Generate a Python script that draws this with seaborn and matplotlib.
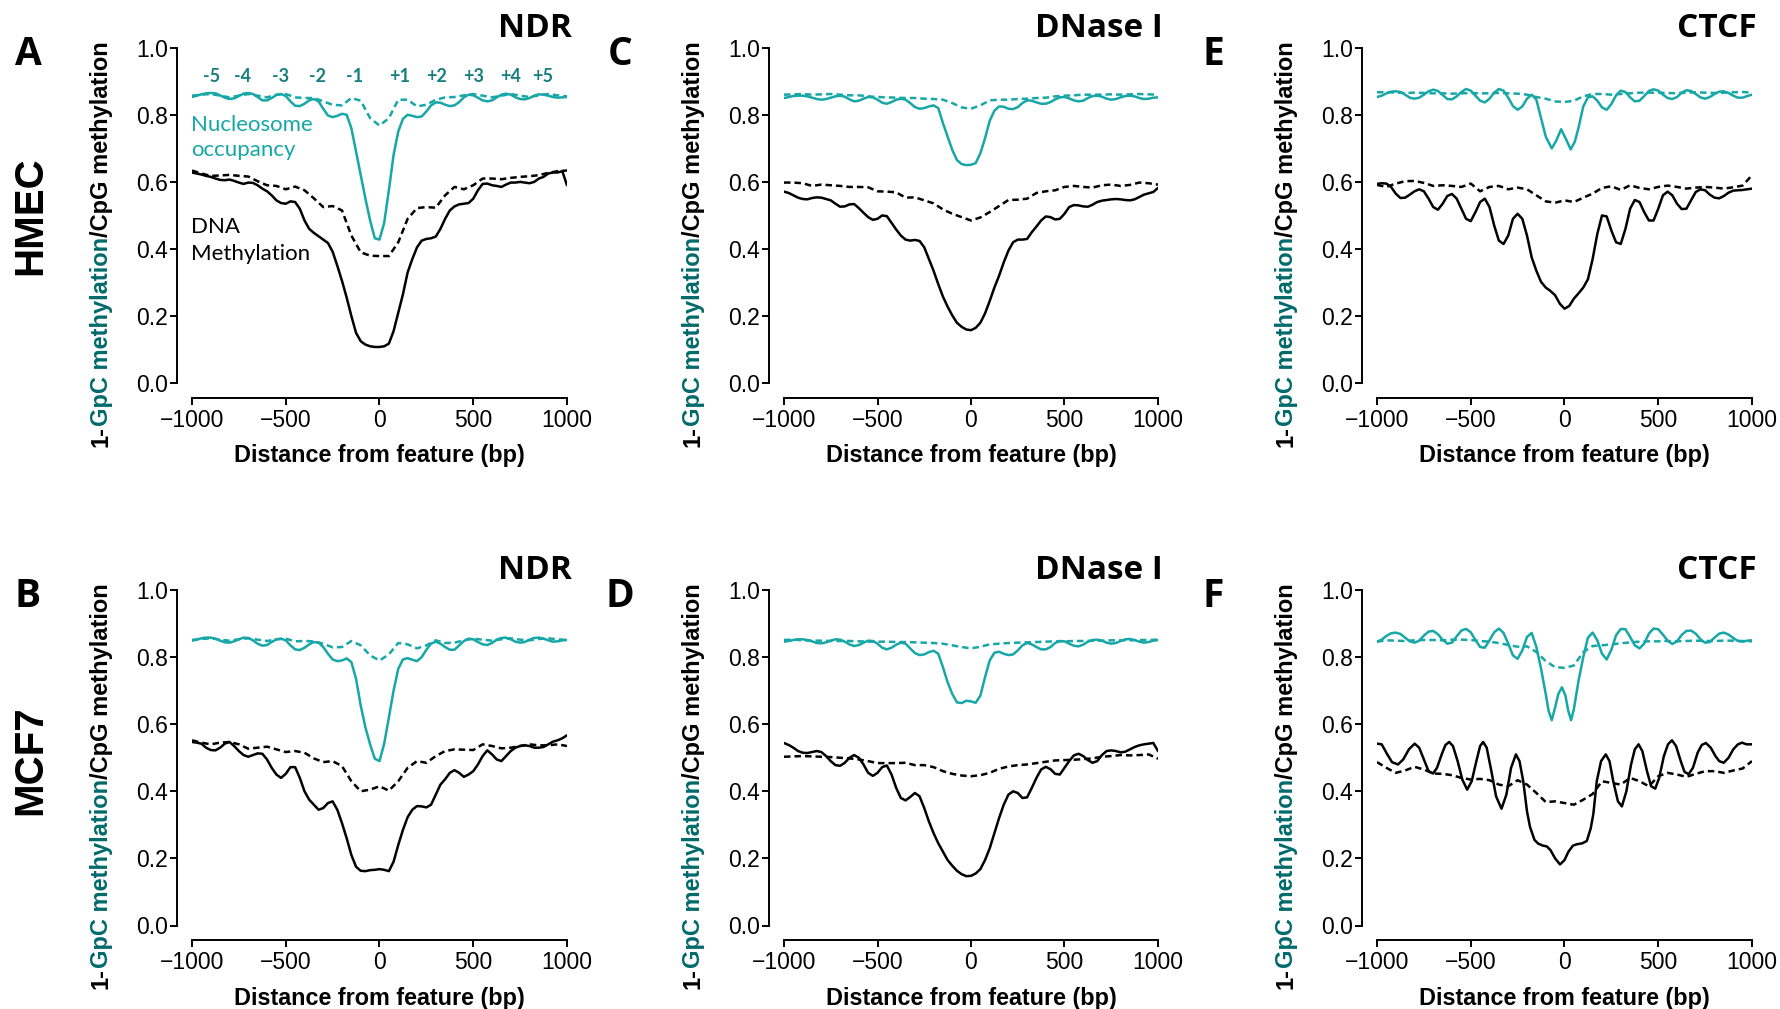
import matplotlib
matplotlib.use("Agg")
import matplotlib.pyplot as plt
import seaborn as sns
from matplotlib.ticker import FormatStrFormatter
from matplotlib.font_manager import FontProperties

sns.set_theme(style="ticks")
plt.rcParams['font.family'] = ['Liberation Sans', 'DejaVu Sans']

# ---------------- data ----------------
X25 = list(range(-1000, 1001, 25))
X50 = list(range(-1000, 1001, 50))

# Panel A  (HMEC, NDR)
A_teal_solid = [0.853, 0.857, 0.861, 0.864, 0.865, 0.864, 0.858, 0.851, 0.847, 0.849,
                0.856, 0.863, 0.865, 0.862, 0.853, 0.843, 0.843, 0.850, 0.859, 0.862,
                0.856, 0.840, 0.827, 0.826, 0.833, 0.843, 0.847, 0.840, 0.818, 0.798,
                0.793, 0.797, 0.803, 0.800, 0.760, 0.690, 0.620, 0.550, 0.485, 0.432,
                0.428, 0.478, 0.575, 0.680, 0.750, 0.788, 0.800, 0.797, 0.793, 0.795,
                0.810, 0.828, 0.837, 0.836, 0.830, 0.826, 0.828, 0.838, 0.852, 0.860,
                0.858, 0.851, 0.843, 0.840, 0.843, 0.852, 0.860, 0.863, 0.860, 0.852,
                0.847, 0.846, 0.850, 0.857, 0.861, 0.860, 0.857, 0.853, 0.851, 0.852,
                0.853]
A_teal_dash = [0.857, 0.860, 0.862, 0.857, 0.852, 0.857, 0.862, 0.857, 0.852, 0.860,
               0.862, 0.852, 0.850, 0.850, 0.840, 0.830, 0.828, 0.850, 0.842, 0.790,
               0.768, 0.790, 0.845, 0.845, 0.825, 0.830, 0.845, 0.852, 0.853, 0.858,
               0.862, 0.857, 0.852, 0.857, 0.862, 0.857, 0.853, 0.858, 0.862, 0.858,
               0.855]
A_black_solid = [0.628, 0.625, 0.622, 0.618, 0.615, 0.610, 0.606, 0.605, 0.607, 0.603,
                 0.598, 0.594, 0.598, 0.597, 0.590, 0.580, 0.572, 0.560, 0.545, 0.537,
                 0.535, 0.542, 0.540, 0.520, 0.485, 0.460, 0.448, 0.438, 0.428, 0.418,
                 0.392, 0.350, 0.305, 0.255, 0.200, 0.150, 0.125, 0.115, 0.110, 0.108,
                 0.108, 0.110, 0.118, 0.155, 0.210, 0.265, 0.330, 0.370, 0.405, 0.425,
                 0.430, 0.432, 0.437, 0.460, 0.490, 0.515, 0.527, 0.533, 0.535, 0.537,
                 0.550, 0.575, 0.594, 0.595, 0.590, 0.588, 0.585, 0.592, 0.598, 0.598,
                 0.600, 0.598, 0.596, 0.600, 0.610, 0.615, 0.625, 0.628, 0.628, 0.632,
                 0.590]
A_black_dash = [0.634, 0.625, 0.618, 0.619, 0.621, 0.618, 0.616, 0.602, 0.590, 0.588,
                0.578, 0.586, 0.575, 0.551, 0.525, 0.528, 0.515, 0.440, 0.390, 0.380,
                0.379, 0.379, 0.420, 0.490, 0.522, 0.525, 0.523, 0.560, 0.585, 0.578,
                0.590, 0.610, 0.610, 0.608, 0.612, 0.615, 0.617, 0.620, 0.627, 0.632,
                0.634]

# Panel C  (HMEC, DNase I)
C_teal_solid = [0.850, 0.853, 0.856, 0.857, 0.857, 0.855, 0.851, 0.847, 0.845, 0.847,
                0.851, 0.855, 0.857, 0.854, 0.846, 0.840, 0.842, 0.848, 0.853, 0.852,
                0.845, 0.836, 0.833, 0.838, 0.845, 0.848, 0.845, 0.835, 0.823, 0.818,
                0.820, 0.825, 0.828, 0.820, 0.775, 0.735, 0.695, 0.665, 0.653, 0.650,
                0.651, 0.656, 0.685, 0.730, 0.782, 0.812, 0.825, 0.824, 0.818, 0.817,
                0.823, 0.835, 0.843, 0.842, 0.837, 0.833, 0.833, 0.838, 0.846, 0.852,
                0.853, 0.849, 0.843, 0.840, 0.842, 0.850, 0.856, 0.857, 0.854, 0.848,
                0.845, 0.847, 0.852, 0.856, 0.857, 0.855, 0.850, 0.847, 0.848, 0.851,
                0.852]
C_teal_dash = [0.860, 0.861, 0.862, 0.860, 0.861, 0.862, 0.860, 0.858, 0.858, 0.855,
               0.853, 0.852, 0.851, 0.850, 0.850, 0.848, 0.847, 0.845, 0.835, 0.822,
               0.818, 0.828, 0.843, 0.845, 0.845, 0.847, 0.848, 0.850, 0.851, 0.855,
               0.857, 0.858, 0.860, 0.860, 0.860, 0.861, 0.860, 0.861, 0.862, 0.861,
               0.860]
C_black_solid = [0.571, 0.567, 0.560, 0.553, 0.549, 0.548, 0.552, 0.554, 0.553, 0.549,
                 0.545, 0.535, 0.526, 0.527, 0.533, 0.534, 0.522, 0.508, 0.495, 0.487,
                 0.490, 0.500, 0.498, 0.478, 0.458, 0.440, 0.428, 0.425, 0.427, 0.424,
                 0.405, 0.370, 0.335, 0.295, 0.258, 0.228, 0.202, 0.180, 0.168, 0.160,
                 0.158, 0.165, 0.180, 0.208, 0.245, 0.285, 0.320, 0.360, 0.395, 0.420,
                 0.428, 0.428, 0.430, 0.450, 0.467, 0.485, 0.497, 0.495, 0.488, 0.490,
                 0.505, 0.525, 0.531, 0.530, 0.527, 0.526, 0.532, 0.540, 0.544, 0.546,
                 0.548, 0.549, 0.548, 0.546, 0.545, 0.548, 0.555, 0.562, 0.566, 0.570,
                 0.582]
C_black_dash = [0.598, 0.598, 0.596, 0.588, 0.592, 0.590, 0.588, 0.585, 0.585, 0.584,
                0.572, 0.571, 0.569, 0.553, 0.554, 0.545, 0.536, 0.518, 0.505, 0.495,
                0.485, 0.494, 0.510, 0.528, 0.546, 0.547, 0.550, 0.567, 0.572, 0.575,
                0.585, 0.588, 0.585, 0.583, 0.590, 0.592, 0.588, 0.591, 0.598, 0.596,
                0.592]

# Panel E  (HMEC, CTCF)
E_teal_solid_x = (list(range(-1000, -150, 25))
                  + [-150, -125, -100, -68, -45, -18, 10, 33, 55, 75, 100, 125]
                  + list(range(150, 1001, 25)))
E_teal_solid = [0.853, 0.857, 0.864, 0.869, 0.870, 0.868, 0.860, 0.851, 0.848, 0.851,
                0.860, 0.870, 0.875, 0.871, 0.859, 0.847, 0.846, 0.855, 0.868, 0.877,
                0.872, 0.857, 0.842, 0.837, 0.848, 0.866, 0.877, 0.872, 0.851, 0.826,
                0.815, 0.825, 0.848, 0.860,
                0.845, 0.790, 0.735, 0.700, 0.722, 0.757, 0.725, 0.697, 0.720, 0.762,
                0.825, 0.852,
                0.855, 0.842, 0.822, 0.815, 0.832, 0.858, 0.872, 0.868, 0.852, 0.840,
                0.842, 0.856, 0.871, 0.876, 0.872, 0.860, 0.850, 0.847, 0.853, 0.866,
                0.873, 0.871, 0.862, 0.852, 0.848, 0.853, 0.862, 0.869, 0.870, 0.865,
                0.857, 0.851, 0.851, 0.856, 0.860]
E_teal_dash = [0.867, 0.868, 0.866, 0.865, 0.866, 0.865, 0.864, 0.864, 0.863, 0.864,
               0.865, 0.864, 0.864, 0.865, 0.864, 0.863, 0.860, 0.853, 0.848, 0.840,
               0.838, 0.842, 0.855, 0.862, 0.862, 0.860, 0.862, 0.864, 0.866, 0.866,
               0.866, 0.865, 0.864, 0.866, 0.867, 0.866, 0.865, 0.866, 0.867, 0.868,
               0.866]
E_black_solid = [0.594, 0.596, 0.595, 0.585, 0.565, 0.552, 0.553, 0.562, 0.572, 0.578,
                 0.572, 0.550, 0.525, 0.517, 0.535, 0.558, 0.564, 0.550, 0.520, 0.490,
                 0.483, 0.510, 0.540, 0.550, 0.525, 0.470, 0.425, 0.415, 0.440, 0.490,
                 0.505, 0.490, 0.440, 0.375, 0.335, 0.302, 0.285, 0.275, 0.262, 0.237,
                 0.222, 0.230, 0.252, 0.268, 0.285, 0.310, 0.370, 0.445, 0.500, 0.497,
                 0.455, 0.420, 0.415, 0.460, 0.520, 0.546, 0.540, 0.510, 0.485, 0.485,
                 0.520, 0.560, 0.571, 0.560, 0.535, 0.519, 0.520, 0.545, 0.570, 0.578,
                 0.575, 0.562, 0.553, 0.551, 0.558, 0.568, 0.574, 0.575, 0.576, 0.578,
                 0.580]
E_black_dash = [0.591, 0.585, 0.595, 0.602, 0.603, 0.597, 0.588, 0.590, 0.588, 0.585,
                0.595, 0.572, 0.585, 0.588, 0.578, 0.583, 0.578, 0.560, 0.542, 0.538,
                0.545, 0.540, 0.553, 0.565, 0.582, 0.587, 0.576, 0.590, 0.582, 0.578,
                0.585, 0.589, 0.585, 0.580, 0.583, 0.585, 0.583, 0.580, 0.584, 0.589,
                0.620]

# Panel B  (MCF7, NDR)
B_teal_solid = [0.849, 0.852, 0.856, 0.858, 0.858, 0.855, 0.849, 0.844, 0.843, 0.847,
                0.853, 0.858, 0.857, 0.850, 0.840, 0.834, 0.836, 0.845, 0.853, 0.855,
                0.850, 0.835, 0.823, 0.821, 0.828, 0.838, 0.845, 0.843, 0.830, 0.810,
                0.793, 0.788, 0.790, 0.796, 0.785, 0.735, 0.655, 0.590, 0.540, 0.497,
                0.490, 0.542, 0.620, 0.700, 0.765, 0.793, 0.797, 0.792, 0.788, 0.800,
                0.822, 0.840, 0.846, 0.840, 0.830, 0.822, 0.822, 0.835, 0.848, 0.855,
                0.853, 0.845, 0.838, 0.836, 0.842, 0.852, 0.857, 0.858, 0.853, 0.846,
                0.843, 0.845, 0.852, 0.857, 0.858, 0.855, 0.850, 0.846, 0.847, 0.850,
                0.851]
B_teal_dash = [0.851, 0.854, 0.856, 0.852, 0.849, 0.853, 0.856, 0.852, 0.848, 0.853,
               0.855, 0.847, 0.848, 0.847, 0.840, 0.829, 0.830, 0.848, 0.835, 0.805,
               0.790, 0.808, 0.842, 0.838, 0.826, 0.835, 0.850, 0.842, 0.843, 0.850,
               0.855, 0.852, 0.849, 0.853, 0.856, 0.852, 0.850, 0.854, 0.856, 0.853,
               0.851]
B_black_solid = [0.547, 0.545, 0.542, 0.530, 0.523, 0.522, 0.530, 0.542, 0.547, 0.535,
                 0.520, 0.508, 0.503, 0.508, 0.513, 0.512, 0.495, 0.470, 0.450, 0.440,
                 0.452, 0.472, 0.472, 0.440, 0.400, 0.375, 0.360, 0.345, 0.350, 0.365,
                 0.370, 0.345, 0.305, 0.260, 0.210, 0.175, 0.163, 0.162, 0.165, 0.166,
                 0.168, 0.166, 0.162, 0.190, 0.240, 0.285, 0.323, 0.345, 0.356, 0.355,
                 0.352, 0.360, 0.390, 0.420, 0.436, 0.455, 0.463, 0.455, 0.443, 0.450,
                 0.460, 0.480, 0.505, 0.522, 0.510, 0.495, 0.490, 0.505, 0.520, 0.530,
                 0.535, 0.537, 0.535, 0.530, 0.530, 0.532, 0.540, 0.548, 0.552, 0.558,
                 0.567]
B_black_dash = [0.552, 0.545, 0.540, 0.545, 0.547, 0.540, 0.527, 0.530, 0.533, 0.525,
                0.517, 0.520, 0.515, 0.498, 0.487, 0.490, 0.475, 0.430, 0.400, 0.405,
                0.415, 0.402, 0.430, 0.470, 0.490, 0.485, 0.505, 0.520, 0.525, 0.524,
                0.523, 0.540, 0.535, 0.528, 0.530, 0.535, 0.540, 0.537, 0.537, 0.540,
                0.535]

# Panel D  (MCF7, DNase I)
D_teal_solid = [0.846, 0.848, 0.851, 0.853, 0.853, 0.851, 0.847, 0.842, 0.841, 0.844,
                0.849, 0.853, 0.852, 0.846, 0.838, 0.833, 0.836, 0.843, 0.849, 0.848,
                0.840, 0.828, 0.823, 0.828, 0.837, 0.843, 0.840, 0.826, 0.812, 0.806,
                0.808, 0.815, 0.819, 0.810, 0.770, 0.725, 0.690, 0.665, 0.663, 0.670,
                0.668, 0.664, 0.685, 0.740, 0.790, 0.813, 0.816, 0.810, 0.806, 0.808,
                0.820, 0.835, 0.842, 0.838, 0.830, 0.823, 0.823, 0.830, 0.842, 0.848,
                0.847, 0.840, 0.834, 0.832, 0.837, 0.846, 0.851, 0.852, 0.849, 0.843,
                0.840, 0.842, 0.848, 0.853, 0.854, 0.851, 0.846, 0.843, 0.845, 0.849,
                0.851]
D_teal_dash = [0.851, 0.852, 0.850, 0.849, 0.849, 0.848, 0.848, 0.848, 0.847, 0.846,
               0.846, 0.846, 0.845, 0.845, 0.844, 0.843, 0.842, 0.840, 0.835, 0.830,
               0.826, 0.831, 0.838, 0.840, 0.842, 0.843, 0.844, 0.845, 0.846, 0.847,
               0.847, 0.848, 0.848, 0.849, 0.849, 0.850, 0.850, 0.850, 0.851, 0.851,
               0.852]
D_black_solid = [0.544, 0.538, 0.530, 0.520, 0.515, 0.514, 0.517, 0.520, 0.517, 0.505,
                 0.490, 0.478, 0.476, 0.485, 0.500, 0.508, 0.500, 0.480, 0.455, 0.446,
                 0.455, 0.472, 0.477, 0.450, 0.410, 0.380, 0.373, 0.383, 0.395, 0.385,
                 0.350, 0.310, 0.275, 0.245, 0.220, 0.195, 0.178, 0.163, 0.153, 0.147,
                 0.148, 0.155, 0.168, 0.195, 0.230, 0.275, 0.320, 0.360, 0.390, 0.400,
                 0.395, 0.380, 0.382, 0.410, 0.440, 0.465, 0.473, 0.466, 0.452, 0.450,
                 0.470, 0.490, 0.507, 0.512, 0.505, 0.493, 0.485, 0.490, 0.508, 0.520,
                 0.522, 0.520, 0.516, 0.518, 0.525, 0.532, 0.537, 0.540, 0.542, 0.544,
                 0.520]
D_black_dash = [0.503, 0.504, 0.505, 0.504, 0.503, 0.502, 0.500, 0.498, 0.495, 0.490,
                0.484, 0.484, 0.484, 0.485, 0.478, 0.478, 0.472, 0.460, 0.452, 0.447,
                0.445, 0.448, 0.455, 0.467, 0.474, 0.478, 0.480, 0.484, 0.488, 0.492,
                0.493, 0.494, 0.496, 0.498, 0.503, 0.505, 0.508, 0.507, 0.508, 0.510,
                0.497]

# Panel F  (MCF7, CTCF)
F_teal_solid_x = (list(range(-1000, -150, 25))
                  + [-150, -125, -100, -85, -68, -50, -33, -14, 5, 20, 35, 50, 75, 100, 125]
                  + list(range(150, 1001, 25)))
F_teal_solid = [0.846, 0.852, 0.863, 0.871, 0.873, 0.869, 0.858, 0.847, 0.843, 0.849,
                0.864, 0.876, 0.878, 0.868, 0.852, 0.840, 0.843, 0.862, 0.879, 0.884,
                0.874, 0.851, 0.830, 0.828, 0.850, 0.874, 0.885, 0.872, 0.840, 0.805,
                0.795, 0.820, 0.860, 0.872,
                0.830, 0.765, 0.690, 0.640, 0.612, 0.650, 0.690, 0.710, 0.685, 0.640,
                0.612, 0.645, 0.730, 0.800, 0.858,
                0.873, 0.850, 0.810, 0.793, 0.822, 0.865, 0.884, 0.883, 0.860, 0.835,
                0.826, 0.840, 0.870, 0.885, 0.883, 0.867, 0.849, 0.839, 0.847, 0.866,
                0.878, 0.879, 0.870, 0.853, 0.843, 0.845, 0.858, 0.870, 0.873, 0.867,
                0.857, 0.848, 0.846, 0.849, 0.850]
F_teal_dash = [0.846, 0.850, 0.849, 0.848, 0.850, 0.851, 0.851, 0.850, 0.852, 0.852,
               0.851, 0.848, 0.846, 0.842, 0.836, 0.831, 0.832, 0.815, 0.788, 0.770,
               0.768, 0.775, 0.815, 0.833, 0.835, 0.838, 0.841, 0.844, 0.846, 0.847,
               0.847, 0.848, 0.847, 0.848, 0.849, 0.848, 0.848, 0.849, 0.849, 0.848,
               0.847]
F_black_solid_x = [-1000, -975, -945, -920, -888, -860, -830, -799, -775, -750,
                   -725, -701, -680, -655, -635, -615, -595, -570, -545, -519,
                   -495, -470, -450, -434, -415, -390, -365, -336, -310, -285,
                   -259, -240, -220, -200, -184, -160, -140, -115, -95, -75,
                   -50, -24, 0, 21, 45, 65, 95, 119, 140, 154,
                   172, 195, 220, 240, 260, 285, 306, 330, 355, 375,
                   395, 415, 440, 462, 484, 505, 530, 552, 573, 595,
                   620, 640, 662, 685, 710, 732, 754, 780, 805, 825,
                   849, 875, 900, 925, 947, 970, 1000]
F_black_solid = [0.542, 0.540, 0.510, 0.487, 0.480, 0.495, 0.525, 0.542, 0.530, 0.495,
                 0.460, 0.453, 0.470, 0.510, 0.538, 0.547, 0.535, 0.490, 0.435, 0.405,
                 0.430, 0.490, 0.535, 0.547, 0.530, 0.460, 0.385, 0.348, 0.390, 0.470,
                 0.510, 0.490, 0.430, 0.340, 0.294, 0.255, 0.244, 0.238, 0.236, 0.225,
                 0.200, 0.182, 0.195, 0.220, 0.238, 0.242, 0.245, 0.252, 0.290, 0.333,
                 0.430, 0.490, 0.510, 0.490, 0.430, 0.370, 0.355, 0.400, 0.480, 0.525,
                 0.540, 0.520, 0.460, 0.415, 0.408, 0.440, 0.505, 0.540, 0.552, 0.535,
                 0.490, 0.458, 0.451, 0.470, 0.515, 0.538, 0.544, 0.530, 0.505, 0.490,
                 0.485, 0.500, 0.525, 0.540, 0.545, 0.540, 0.540]
F_black_dash = [0.487, 0.470, 0.455, 0.462, 0.473, 0.465, 0.453, 0.452, 0.448, 0.440,
                0.435, 0.437, 0.433, 0.420, 0.415, 0.433, 0.420, 0.395, 0.368, 0.370,
                0.365, 0.360, 0.375, 0.392, 0.430, 0.425, 0.420, 0.440, 0.430, 0.415,
                0.445, 0.455, 0.450, 0.443, 0.452, 0.460, 0.460, 0.455, 0.462, 0.468,
                0.490]

LETTERS = ["A", "C", "E", "B", "D", "F"]
TITLES = ["NDR", "DNase I", "CTCF", "NDR", "DNase I", "CTCF"]
ROW_LABELS = ["HMEC", "MCF7"]
NUC_LABELS = ["-5", "-4", "-3", "-2", "-1", "+1", "+2", "+3", "+4", "+5"]
NUC_POS = [-893, -728, -525, -328, -131, 109, 307, 504, 701, 872]
X_TICKS = [-1000, -500, 0, 500, 1000]
Y_TICKS = [0.0, 0.2, 0.4, 0.6, 0.8, 1.0]

# ---------------- style ----------------
TEAL = "#17a7a7"
TEAL_DARK = "#006a6a"
NUM_TEAL = "#157f7f"
LW = 1.8
DASH = (0, (2.6, 1.6))

W, H = 1781, 1009
fig = plt.figure(figsize=(W / 100, H / 100), dpi=100, facecolor="white")
renderer = fig.canvas.get_renderer()

COL_LEFT = [192, 784, 1377]
COL_W = [375, 374, 375]
ROW_TOP = [47.7, 590]
AX_H = 335.5

panels = [
    [(X50, A_teal_dash, TEAL, DASH), (X25, A_teal_solid, TEAL, "-"),
     (X50, A_black_dash, "black", DASH), (X25, A_black_solid, "black", "-")],
    [(X50, C_teal_dash, TEAL, DASH), (X25, C_teal_solid, TEAL, "-"),
     (X50, C_black_dash, "black", DASH), (X25, C_black_solid, "black", "-")],
    [(X50, E_teal_dash, TEAL, DASH), (E_teal_solid_x, E_teal_solid, TEAL, "-"),
     (X50, E_black_dash, "black", DASH), (X25, E_black_solid, "black", "-")],
    [(X50, B_teal_dash, TEAL, DASH), (X25, B_teal_solid, TEAL, "-"),
     (X50, B_black_dash, "black", DASH), (X25, B_black_solid, "black", "-")],
    [(X50, D_teal_dash, TEAL, DASH), (X25, D_teal_solid, TEAL, "-"),
     (X50, D_black_dash, "black", DASH), (X25, D_black_solid, "black", "-")],
    [(X50, F_teal_dash, TEAL, DASH), (F_teal_solid_x, F_teal_solid, TEAL, "-"),
     (X50, F_black_dash, "black", DASH), (F_black_solid_x, F_black_solid, "black", "-")],
]

yl_fp = FontProperties(family="Liberation Sans", weight="bold", size=17)


def ylabel_parts(xpix, ybot):
    parts = [("1-", "black"), ("GpC methylation", TEAL_DARK), ("/CpG methylation", "black")]
    y = ybot
    for s, c in parts:
        fig.text(xpix / W, 1 - y / H, s, rotation=90, rotation_mode="anchor",
                 ha="left", va="baseline", color=c, fontproperties=yl_fp)
        w, h, d = renderer.get_text_width_height_descent(s, yl_fp, ismath=False)
        y -= w


axes = []
for i, lines in enumerate(panels):
    r, c = divmod(i, 3)
    left, top, wpx = COL_LEFT[c], ROW_TOP[r], COL_W[c]
    ax = fig.add_axes([left / W, 1 - (top + AX_H) / H, wpx / W, AX_H / H])
    axes.append(ax)
    for xs, ys, col, ls in lines:
        sns.lineplot(x=xs, y=ys, ax=ax, color=col, linewidth=LW, linestyle=ls)
    ax.set_xlim(-1000, 1000)
    ax.set_ylim(0, 1)
    ax.set_xticks(X_TICKS)
    ax.set_yticks(Y_TICKS)
    ax.yaxis.set_major_formatter(FormatStrFormatter("%.1f"))
    sns.despine(ax=ax, offset=10.5)
    for s in ["left", "bottom"]:
        ax.spines[s].set_linewidth(1.4)
        ax.spines[s].set_color("black")
    ax.tick_params(axis="both", width=1.4, length=5, color="black",
                   labelcolor="black", labelsize=16.5)
    ax.tick_params(axis="x", pad=3)
    ax.tick_params(axis="y", pad=2)
    ax.set_xlabel("Distance from feature (bp)", fontsize=16.8, fontweight="bold",
                  labelpad=9, color="black")
    ax.set_ylabel("")
    ax.set_facecolor("white")

    # title (right aligned above panel)
    fig.text((left + wpx + 5) / W, 1 - (37 + (top - 47.7)) / H, TITLES[i],
             ha="right", va="baseline", fontsize=24, fontweight="bold",
             family=["Open Sans", "DejaVu Sans"], color="black")
    # panel letter
    fig.text((28 + (left - 192)) / W, 1 - (65 + (top - 47.7)) / H, LETTERS[i],
             ha="center", va="baseline", fontsize=28, fontweight="bold",
             family=["Open Sans", "DejaVu Sans"], color="black")
    # y label in two colours
    ylabel_parts(108 + (left - 192), 447 + (top - 47.7))

# row labels
fig.text(30 / W, 1 - 216 / H, ROW_LABELS[0], rotation=90, ha="center", va="center",
         fontsize=29, fontweight="bold", color="black")
fig.text(30 / W, 1 - 760 / H, ROW_LABELS[1], rotation=90, ha="center", va="center",
         fontsize=29, fontweight="bold", color="black")

# annotations in panel A
axA = axes[0]
for lab, xp in zip(NUC_LABELS, NUC_POS):
    axA.text(xp, 0.913, lab, ha="center", va="center", fontsize=13, fontweight="bold",
             color=NUM_TEAL, family=["Lato", "DejaVu Sans"])
axA.text(-1005, 0.752, "Nucleosome", ha="left", va="baseline", fontsize=16,
         color=TEAL, family=["Lato", "DejaVu Sans"])
axA.text(-1005, 0.677, "occupancy", ha="left", va="baseline", fontsize=16,
         color=TEAL, family=["Lato", "DejaVu Sans"])
axA.text(-1005, 0.448, "DNA", ha="left", va="baseline", fontsize=16,
         color="black", family=["Lato", "DejaVu Sans"])
axA.text(-1005, 0.366, "Methylation", ha="left", va="baseline", fontsize=16,
         color="black", family=["Lato", "DejaVu Sans"])

fig.savefig("out.png", dpi=100, facecolor="white")
